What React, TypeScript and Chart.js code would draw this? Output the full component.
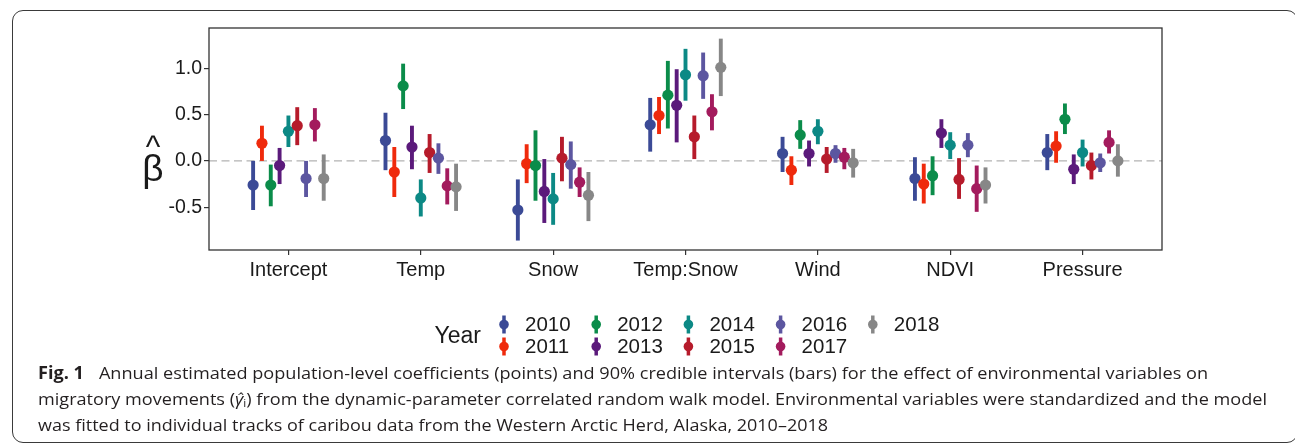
import React, { useEffect, useLayoutEffect, useRef } from "react";
import { Chart, registerables } from "chart.js";

Chart.register(...registerables);

// ---------------- data ----------------
const categories = ["Intercept", "Temp", "Snow", "Temp:Snow", "Wind", "NDVI", "Pressure"];
const years = ["2010", "2011", "2012", "2013", "2014", "2015", "2016", "2017", "2018"];
const yearColors = [
  "#3b4a96", "#ef2a0c", "#0b8c4a", "#5b1a7b", "#0c8985",
  "#b61b2b", "#5c56a0", "#a31b5d", "#878787",
];
// rows: years, columns: categories
const estimates = [
  [-0.26, 0.22, -0.53, 0.39, 0.08, -0.19, 0.09],
  [0.19, -0.12, -0.03, 0.49, -0.1, -0.25, 0.16],
  [-0.26, 0.81, -0.05, 0.71, 0.28, -0.16, 0.45],
  [-0.05, 0.15, -0.33, 0.6, 0.08, 0.3, -0.09],
  [0.32, -0.4, -0.41, 0.93, 0.32, 0.17, 0.09],
  [0.38, 0.09, 0.03, 0.26, 0.02, -0.2, -0.05],
  [-0.19, 0.03, -0.04, 0.92, 0.08, 0.17, -0.02],
  [0.39, -0.27, -0.23, 0.53, 0.04, -0.3, 0.2],
  [-0.19, -0.28, -0.37, 1.01, -0.02, -0.26, 0.0],
];
const lower = [
  [-0.53, -0.1, -0.86, 0.1, -0.12, -0.43, -0.1],
  [0.0, -0.39, -0.24, 0.29, -0.26, -0.46, -0.02],
  [-0.49, 0.56, -0.43, 0.35, 0.13, -0.37, 0.29],
  [-0.25, -0.09, -0.67, 0.2, -0.06, 0.14, -0.25],
  [0.15, -0.6, -0.69, 0.65, 0.18, 0.02, -0.06],
  [0.17, -0.13, -0.22, 0.02, -0.13, -0.41, -0.2],
  [-0.39, -0.14, -0.3, 0.67, -0.02, 0.04, -0.12],
  [0.21, -0.47, -0.39, 0.33, -0.09, -0.55, 0.08],
  [-0.43, -0.54, -0.65, 0.7, -0.18, -0.46, -0.17],
];
const upper = [
  [0.0, 0.52, -0.2, 0.68, 0.26, 0.04, 0.29],
  [0.38, 0.15, 0.18, 0.69, 0.05, -0.03, 0.32],
  [-0.04, 1.05, 0.33, 1.08, 0.44, 0.05, 0.62],
  [0.14, 0.38, 0.02, 0.99, 0.22, 0.45, 0.07],
  [0.49, -0.2, -0.13, 1.21, 0.45, 0.31, 0.23],
  [0.58, 0.29, 0.26, 0.49, 0.15, 0.03, 0.09],
  [0.0, 0.19, 0.21, 1.17, 0.17, 0.3, 0.08],
  [0.57, -0.08, -0.07, 0.72, 0.14, -0.05, 0.33],
  [0.07, -0.03, -0.12, 1.32, 0.13, -0.07, 0.18],
];
const yTickValues = [-0.5, 0, 0.5, 1.0];
const yMin = -0.962;
const yMax = 1.435;
const dodgeWidth = 0.6;
const legendTitle = "Year";
const captionLabel = "Fig. 1";

// ---------------- layout ----------------
const W = 1295;
const CANVAS_H = 362;
const FONT = "'Liberation Sans', Arial, Helvetica, sans-serif";
const TEXT_COLOR = "#1a1a1a";
const AXIS_COLOR = "#333333";

const dodged = (ci: number, yi: number) =>
  ci + (yi - (years.length - 1) / 2) * (dodgeWidth / years.length);

const overlayPlugin = {
  id: "overlay",
  beforeDatasetsDraw(chart: any) {
    const { ctx, chartArea, scales } = chart;
    const x = scales.x;
    const y = scales.y;
    ctx.save();
    // zero reference line
    const y0 = y.getPixelForValue(0);
    ctx.strokeStyle = "#b3b3b3";
    ctx.lineWidth = 1.4;
    ctx.setLineDash([8, 4.5]);
    ctx.beginPath();
    ctx.moveTo(chartArea.left, y0);
    ctx.lineTo(chartArea.right, y0);
    ctx.stroke();
    ctx.setLineDash([]);
    // credible interval bars
    ctx.lineWidth = 3.9;
    ctx.lineCap = "butt";
    years.forEach((_, yi) => {
      ctx.strokeStyle = yearColors[yi];
      categories.forEach((__, ci) => {
        const px = x.getPixelForValue(dodged(ci, yi));
        ctx.beginPath();
        ctx.moveTo(px, y.getPixelForValue(lower[yi][ci]));
        ctx.lineTo(px, y.getPixelForValue(upper[yi][ci]));
        ctx.stroke();
      });
    });
    ctx.restore();
  },
  afterDraw(chart: any) {
    const { ctx, chartArea } = chart;
    ctx.save();
    // panel border
    ctx.strokeStyle = AXIS_COLOR;
    ctx.lineWidth = 1.3;
    ctx.strokeRect(chartArea.left, chartArea.top, chartArea.right - chartArea.left, chartArea.bottom - chartArea.top);

    // y axis title: beta hat
    ctx.fillStyle = TEXT_COLOR;
    ctx.textAlign = "center";
    ctx.textBaseline = "alphabetic";
    ctx.font = `37px ${FONT}`;
    ctx.fillText("β", 153, 181);
    ctx.font = `31px ${FONT}`;
    ctx.fillText("^", 153, 157);

    // legend
    const keyX0 = 504;
    const colStep = 92.2;
    const rowY0 = 324.5;
    const rowStep = 22;
    ctx.font = `23px ${FONT}`;
    ctx.textAlign = "right";
    ctx.textBaseline = "middle";
    ctx.fillText(legendTitle, 481, 337);
    years.forEach((yr, yi) => {
      const col = Math.floor(yi / 2);
      const row = yi % 2;
      const kx = keyX0 + col * colStep;
      const ky = rowY0 + row * rowStep;
      ctx.strokeStyle = yearColors[yi];
      ctx.fillStyle = yearColors[yi];
      ctx.lineWidth = 3.5;
      ctx.beginPath();
      ctx.moveTo(kx, ky - 9);
      ctx.lineTo(kx, ky + 9);
      ctx.stroke();
      ctx.beginPath();
      ctx.arc(kx, ky, 4.8, 0, Math.PI * 2);
      ctx.fill();
      ctx.fillStyle = TEXT_COLOR;
      ctx.font = `20.5px ${FONT}`;
      ctx.textAlign = "left";
      ctx.fillText(yr, kx + 21, ky + 1);
    });
    ctx.restore();
  },
};

const captionLines: React.ReactNode[] = [
  <>
    <span style={{ fontWeight: 700, marginRight: 14 }}>{captionLabel}</span>
    Annual estimated population-level coefficients (points) and 90% credible intervals (bars) for the effect of environmental variables on
  </>,
  <>
    migratory movements (
    <span style={{ fontStyle: "italic" }}>γ̂</span>
    <span style={{ fontSize: "0.65em", verticalAlign: "-0.2em" }}>i</span>) from the dynamic-parameter correlated random walk model. Environmental variables were standardized and the model
  </>,
  <>was fitted to individual tracks of caribou data from the Western Arctic Herd, Alaska, 2010–2018</>,
];
const captionTargetWidths = [1170, 1229, 790];

export default function App() {
  const canvasRef = useRef<HTMLCanvasElement | null>(null);
  const lineRefs = useRef<(HTMLSpanElement | null)[]>([]);

  useLayoutEffect(() => {
    document.body.style.margin = "0";
    lineRefs.current.forEach((el, i) => {
      if (!el) return;
      el.style.transform = "none";
      const w = el.getBoundingClientRect().width;
      if (w > 0) el.style.transform = `scaleX(${captionTargetWidths[i] / w})`;
    });
  }, []);

  useEffect(() => {
    const canvas = canvasRef.current;
    if (!canvas) return;
    const datasets = years.map((yr, yi) => ({
      label: yr,
      data: categories.map((_, ci) => ({ x: dodged(ci, yi), y: estimates[yi][ci] })),
      backgroundColor: yearColors[yi],
      borderColor: yearColors[yi],
      pointRadius: 5.6,
      pointBorderWidth: 0,
      order: years.length - yi,
    }));
    const chart = new Chart(canvas, {
      type: "scatter",
      data: { datasets },
      options: {
        responsive: false,
        animation: false,
        devicePixelRatio: 1,
        layout: { padding: { left: 0, top: 28, right: 133, bottom: 0 } },
        plugins: { legend: { display: false }, tooltip: { enabled: false }, title: { display: false } },
        scales: {
          x: {
            type: "linear",
            min: -0.6,
            max: categories.length - 0.4,
            afterFit(scale: any) {
              scale.height = CANVAS_H - 250;
            },
            afterBuildTicks(scale: any) {
              scale.ticks = categories.map((_, i) => ({ value: i }));
            },
            grid: {
              drawOnChartArea: false,
              drawTicks: true,
              tickLength: 5,
              color: AXIS_COLOR,
              lineWidth: 1.2,
            },
            border: { display: false },
            ticks: {
              autoSkip: false,
              maxRotation: 0,
              padding: 3,
              color: TEXT_COLOR,
              font: { family: FONT, size: 20 },
              callback: (v: any) => categories[Math.round(Number(v))] ?? "",
            },
          },
          y: {
            type: "linear",
            min: yMin,
            max: yMax,
            afterFit(scale: any) {
              scale.width = 209;
            },
            afterBuildTicks(scale: any) {
              scale.ticks = yTickValues.map((v) => ({ value: v }));
            },
            grid: {
              drawOnChartArea: false,
              drawTicks: true,
              tickLength: 5,
              color: AXIS_COLOR,
              lineWidth: 1.2,
            },
            border: { display: false },
            ticks: {
              padding: 2,
              color: TEXT_COLOR,
              font: { family: FONT, size: 19.5 },
              callback: (v: any) => Number(v).toFixed(1),
            },
          },
        },
      },
      plugins: [overlayPlugin],
    } as any);
    return () => chart.destroy();
  }, []);

  return (
    <div style={{ position: "relative", width: W, height: 444, overflow: "hidden", background: "#fff" }}>
      <div
        style={{
          position: "absolute",
          left: 12,
          top: 10,
          width: 1286,
          height: 433,
          boxSizing: "border-box",
          border: "1.3px solid #3a3a3a",
          borderRadius: 11,
        }}
      />
      <canvas ref={canvasRef} width={W} height={CANVAS_H} style={{ position: "absolute", left: 0, top: 0 }} />
      <div
        style={{
          position: "absolute",
          left: 38,
          top: 360,
          fontFamily: "'Open Sans', 'Noto Sans', sans-serif",
          fontSize: 17,
          lineHeight: "26.2px",
          color: "#231f20",
          whiteSpace: "nowrap",
        }}
      >
        {captionLines.map((ln, i) => (
          <div key={i} style={{ height: 26.2 }}>
            <span
              ref={(el) => {
                lineRefs.current[i] = el;
              }}
              style={{ display: "inline-block", transformOrigin: "left center" }}
            >
              {ln}
            </span>
          </div>
        ))}
      </div>
    </div>
  );
}
